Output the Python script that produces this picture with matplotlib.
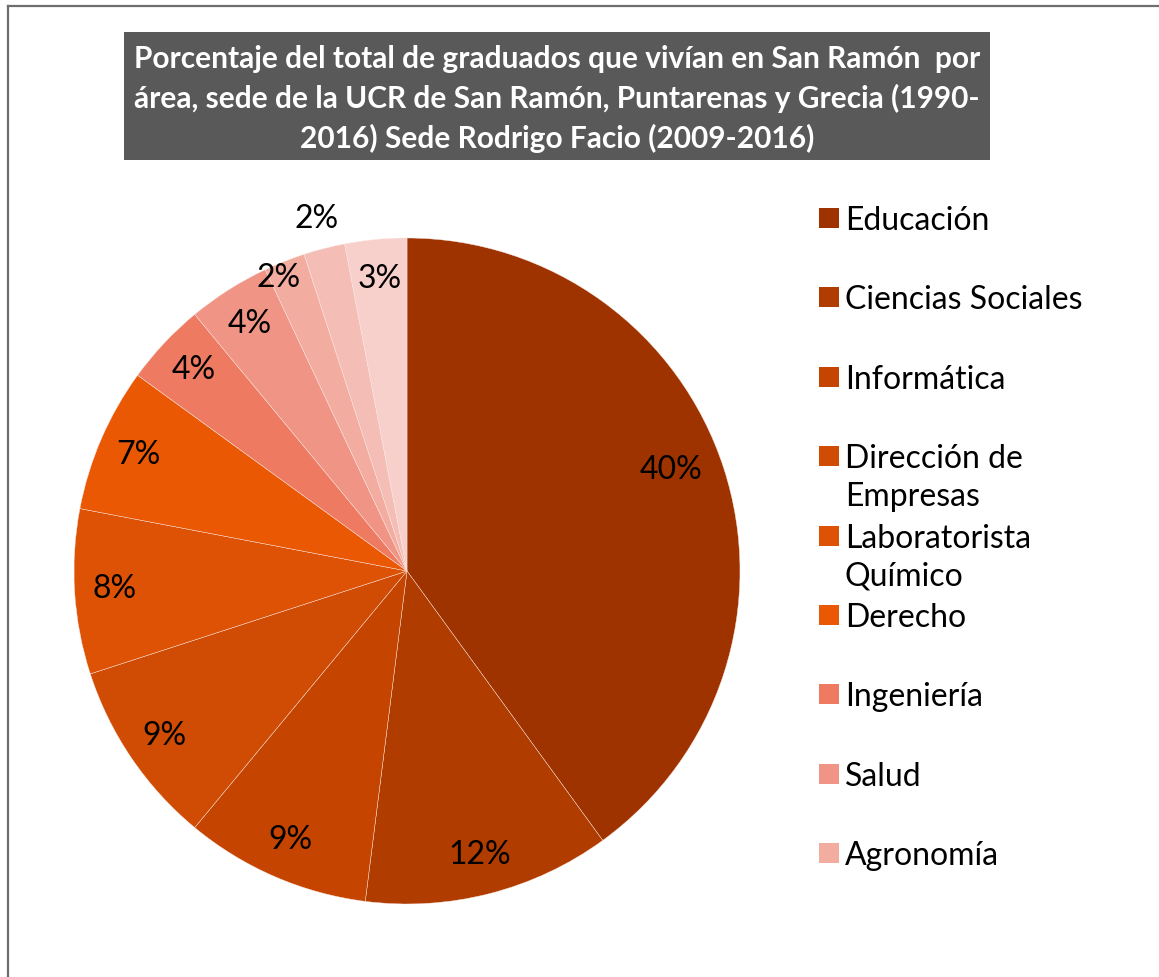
import matplotlib.pyplot as plt
from matplotlib.patches import Rectangle
from matplotlib.lines import Line2D
import numpy as np

# data (clockwise from 12 o'clock)
areas = ["Educación", "Ciencias Sociales", "Informática", "Dirección de\nEmpresas",
         "Laboratorista\nQuímico", "Derecho", "Ingeniería", "Salud", "Agronomía",
         "Área 10", "Área 11"]
porcentajes = [40, 12, 9, 9, 8, 7, 4, 4, 2, 2, 3]
colores = ["#9E3300", "#B03C00", "#C44400", "#D04B04", "#DE5206", "#EA5804",
           "#EE7A62", "#F09585", "#F2ADA0", "#F4BDB5", "#F7D0CB"]
n_leyenda = 9  # only nine entries fit in the original legend

titulo = ("Porcentaje del total de graduados que vivían en San Ramón  por\n"
          "área, sede de la UCR de San Ramón, Puntarenas y Grecia (1990-\n"
          "2016) Sede Rodrigo Facio (2009-2016)")

W, H = 1159, 977
FONT = "Lato"

fig = plt.figure(figsize=(W / 100, H / 100), dpi=100)

# outer chart border (left + top visible)
fig.add_artist(Line2D([7.5 / W, 7.5 / W], [0, 1 - 5.5 / H], color="#6E6E6E", lw=1.6))
fig.add_artist(Line2D([7.5 / W, 1], [1 - 5.5 / H, 1 - 5.5 / H], color="#6E6E6E", lw=1.6))

# title box
fig.add_artist(Rectangle((124 / W, 1 - 160 / H), (990 - 124) / W, (160 - 32) / H,
                         transform=fig.transFigure, facecolor="#595959", edgecolor="none"))
fig.text(557 / W, 1 - 99 / H, titulo, ha="center", va="center", color="white",
         fontsize=21.5, fontweight="bold", family=FONT, linespacing=1.45,
         multialignment="center")

# pie
cx, cy, r = 407, 571, 333
ax = fig.add_axes([(cx - r) / W, (H - cy - r) / H, 2 * r / W, 2 * r / H])
wedges, texts, autotexts = ax.pie(
    porcentajes, colors=colores, startangle=90, counterclock=False,
    autopct="%1.0f%%", pctdistance=0.88,
    wedgeprops=dict(edgecolor="#FBE9E4", linewidth=0.3),
    textprops=dict(fontsize=23, family=FONT, color="black"))
ax.set_xlim(-1, 1)
ax.set_ylim(-1, 1)
ax.set_aspect("equal")
ax.axis("off")

# a few labels sit closer or further out, as Excel placed them
ajuste = {0: (0.85, 3), 8: (0.96, 2), 9: (1.09, 0)}
for i, (dist, dang) in ajuste.items():
    w = wedges[i]
    ang = np.deg2rad((w.theta1 + w.theta2) / 2 + dang)
    autotexts[i].set_position((dist * np.cos(ang), dist * np.sin(ang)))

# legend drawn as in the original: equal slots, handle at first line
x_box, y0, paso, lado = 819, 218, 79.4, 20
for i in range(n_leyenda):
    y = y0 + i * paso
    fig.add_artist(Rectangle((x_box / W, 1 - (y + lado / 2) / H), lado / W, lado / H,
                             transform=fig.transFigure, facecolor=colores[i],
                             edgecolor="none"))
    fig.text(845 / W, 1 - (y - 12) / H, areas[i], ha="left", va="top",
             fontsize=23, family=FONT, color="black", linespacing=1.33)

fig.savefig("out.png", dpi=100)
